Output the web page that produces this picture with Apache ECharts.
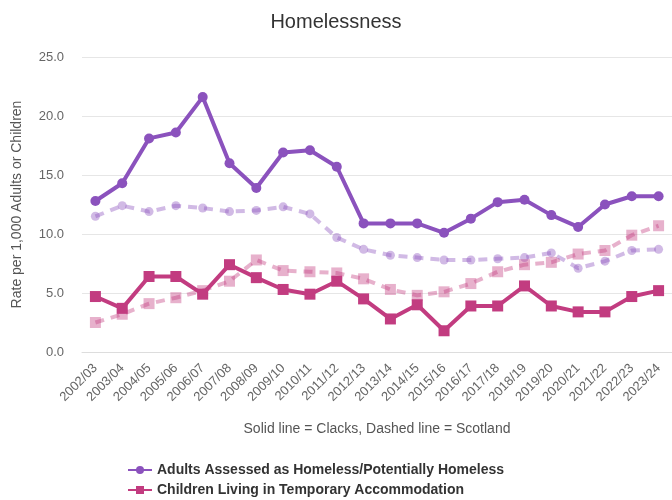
<!DOCTYPE html>
<html><head><meta charset="utf-8">
<script src="https://cdn.jsdelivr.net/npm/echarts@6/dist/echarts.min.js"></script>
<style>html,body{margin:0;padding:0;background:#fff}#c{width:672px;height:500px}</style>
</head><body><div id="c"></div>
<script>
var years = ['2002/03','2003/04','2004/05','2005/06','2006/07','2007/08','2008/09','2009/10','2010/11','2011/12','2012/13','2013/14','2014/15','2015/16','2016/17','2017/18','2018/19','2019/20','2020/21','2021/22','2022/23','2023/24'];
var adultsClacks   = [12.8,14.3,18.1,18.6,21.6,16.0,13.9,16.9,17.1,15.7,10.9,10.9,10.9,10.1,11.3,12.7,12.9,11.6,10.6,12.5,13.2,13.2];
var adultsScotland = [11.5,12.4,11.9,12.4,12.2,11.9,12.0,12.3,11.7,9.7,8.7,8.2,8.0,7.8,7.8,7.9,8.0,8.4,7.1,7.7,8.6,8.7];
var childClacks    = [4.7,3.7,6.4,6.4,4.9,7.4,6.3,5.3,4.9,6.0,4.5,2.8,4.0,1.8,3.9,3.9,5.6,3.9,3.4,3.4,4.7,5.2];
var childScotland  = [2.5,3.2,4.1,4.6,5.2,6.0,7.8,6.9,6.8,6.7,6.2,5.3,4.8,5.1,5.8,6.8,7.4,7.6,8.3,8.6,9.9,10.7];

var purple = '#8b52bd', magenta = '#c23c80';
var FONT = '"Liberation Sans", Arial, sans-serif';
var chart = echarts.init(document.getElementById('c'), null, {renderer:'canvas'});
function solid(name, data, color, sym, size){
  return {name:name, type:'line', data:data, symbol:sym, symbolSize:size,
    itemStyle:{color:color}, lineStyle:{color:color, width:4}, z:3};
}
function dashed(name, data, color, sym, size){
  return {name:name, type:'line', data:data, symbol:sym, symbolSize:size,
    itemStyle:{color:color, opacity:0.4}, lineStyle:{color:color, width:4, type:[9,7], opacity:0.4}, z:2};
}
var legendText = {fontSize:14, fontWeight:'bold', color:'#333', fontFamily:FONT};
chart.setOption({
  animation:false,
  textStyle:{fontFamily:FONT},
  title:{text:'Homelessness', left:'center', top:7, textStyle:{fontSize:20, fontWeight:'normal', color:'#333', fontFamily:FONT}},
  grid:{left:82, right:0, top:57, bottom:148, containLabel:false},
  legend:[
    {left:122, top:458, itemWidth:24, itemHeight:10, data:['Adults Assessed as Homeless/Potentially Homeless'], textStyle:legendText},
    {left:122, top:478, itemWidth:24, itemHeight:10, data:['Children Living in Temporary Accommodation'], textStyle:legendText}
  ],
  xAxis:{type:'category', data:years, boundaryGap:true,
    name:'Solid line = Clacks, Dashed line = Scotland', nameLocation:'middle', nameGap:70,
    nameTextStyle:{fontSize:14, color:'#555', fontFamily:FONT},
    axisLine:{lineStyle:{color:'#ddd'}}, axisTick:{show:false},
    axisLabel:{rotate:45, fontSize:13, color:'#666', interval:0, margin:14, fontFamily:FONT}},
  yAxis:{type:'value', min:0, max:25, interval:5,
    name:'Rate per 1,000 Adults or Children', nameLocation:'middle', nameGap:58,
    nameTextStyle:{fontSize:14, color:'#555', fontFamily:FONT},
    axisLabel:{formatter:function(v){return v.toFixed(1);}, fontSize:13, color:'#666', margin:18, fontFamily:FONT},
    splitLine:{lineStyle:{color:'#e6e6e6'}}, axisLine:{show:false}, axisTick:{show:false}},
  series:[
    dashed('Scotland Adults', adultsScotland, purple, 'circle', 9),
    dashed('Scotland Children', childScotland, magenta, 'rect', 11),
    solid('Adults Assessed as Homeless/Potentially Homeless', adultsClacks, purple, 'circle', 10),
    solid('Children Living in Temporary Accommodation', childClacks, magenta, 'rect', 11)
  ]
});
</script></body></html>
